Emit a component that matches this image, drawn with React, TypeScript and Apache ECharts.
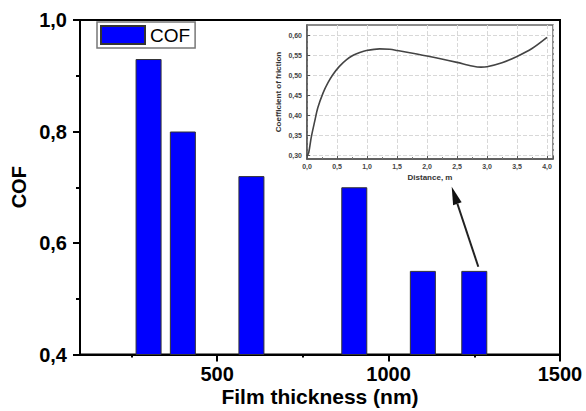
import React, { useEffect, useRef } from "react";
import * as echarts from "echarts";

const thickness = [300, 400, 600, 900, 1100, 1250];
const cofValues = [0.93, 0.8, 0.72, 0.7, 0.55, 0.55];
const xLabelValues = [500, 1000, 1500];
const xMinorTickValues = [250, 750, 1250];

const insetDistance = [0, 0.03, 0.07, 0.13, 0.18, 0.27, 0.35, 0.43, 0.54, 0.66, 0.77, 0.88, 0.99, 1.21, 1.38, 1.5, 2.0, 2.5, 2.75, 2.9, 3.0, 3.25, 3.5, 3.75, 4.0];
const insetFriction = [0.297, 0.307, 0.344, 0.386, 0.419, 0.457, 0.482, 0.502, 0.523, 0.54, 0.551, 0.558, 0.563, 0.567, 0.566, 0.563, 0.549, 0.533, 0.524, 0.521, 0.522, 0.532, 0.548, 0.568, 0.596];
const insetYTicks = [0.3, 0.35, 0.4, 0.45, 0.5, 0.55, 0.6];

export default function App() {
  const ref = useRef<HTMLDivElement>(null);
  useEffect(() => {
    document.body.style.margin = "0";
    if (!ref.current) return;
    const chart = echarts.init(ref.current, undefined, { renderer: "svg" });
    const font = "Liberation Sans, Arial, sans-serif";
    // arrow geometry (annotation)
    const tip = [451.7, 186.7];
    const tail = [478.3, 266.7];
    const dx = tip[0] - tail[0];
    const dy = tip[1] - tail[1];
    const len = Math.sqrt(dx * dx + dy * dy);
    const ux = dx / len, uy = dy / len;
    const px = -uy, py = ux;
    const hl = 18, hw = 4.5;
    const bx = tip[0] - hl * ux, by = tip[1] - hl * uy;

    chart.setOption({
      animation: false,
      backgroundColor: "#fff",
      textStyle: { fontFamily: font },
      legend: {
        show: true,
        left: 97,
        top: 22,
        padding: [3, 5, 3, 3],
        itemWidth: 44,
        itemHeight: 18,
        borderColor: "#777",
        borderWidth: 1.5,
        icon: "rect",
        textStyle: { fontSize: 19, color: "#000", fontFamily: font },
        data: ["COF"],
      },
      grid: [
        { left: 80, top: 20, width: 480, height: 334.5, show: true, borderColor: "#000", borderWidth: 2, outerBoundsMode: "none" },
        { left: 307, top: 25, width: 246, height: 134, show: true, borderColor: "#666", borderWidth: 1.5, backgroundColor: "#fff", outerBoundsMode: "none" },
      ],
      xAxis: [
        {
          type: "value",
          gridIndex: 0,
          min: 100,
          max: 1500,
          name: "Film thickness (nm)",
          nameLocation: "middle",
          nameGap: 31,
          nameMoveOverlap: false,
          nameTextStyle: { fontSize: 21, fontWeight: "bold", color: "#000", fontFamily: font, lineHeight: 21 },
          axisLine: { show: true, lineStyle: { color: "#000", width: 2 } },
          axisTick: { show: true, length: 7, lineStyle: { color: "#000", width: 2 }, customValues: xLabelValues },
          axisLabel: {
            fontSize: 20,
            fontWeight: "bold",
            color: "#000",
            margin: 9,
            lineHeight: 20,
            customValues: xLabelValues,
            fontFamily: font,
            formatter: (v: number) => String(v),
          },
          splitLine: { show: false },
        },
        {
          type: "value",
          gridIndex: 0,
          position: "bottom",
          min: 100,
          max: 1500,
          axisLine: { show: false },
          axisTick: { show: true, length: 3, lineStyle: { color: "#000", width: 2 }, customValues: xMinorTickValues },
          axisLabel: { show: false },
          splitLine: { show: false },
        },
        {
          type: "value",
          gridIndex: 1,
          min: 0,
          max: 4.1,
          interval: 0.5,
          name: "Distance, m",
          nameLocation: "middle",
          nameGap: 14,
          nameMoveOverlap: false,
          nameTextStyle: { fontSize: 8, fontWeight: "bold", color: "#333", fontFamily: font },
          axisLine: { show: true, lineStyle: { color: "#555", width: 1.5 } },
          axisTick: { show: true, inside: true, length: 3, lineStyle: { color: "#555" } },
          minorTick: { show: true, splitNumber: 2, length: 2, lineStyle: { color: "#777" } },
          axisLabel: {
            fontSize: 7,
            fontWeight: "bold",
            color: "#444",
            margin: 4,
            showMaxLabel: false,
            formatter: (v: number) => v.toFixed(1).replace(".", ","),
          },
          splitLine: { show: true, lineStyle: { color: "#d8d8d8", type: "dashed", width: 1 } },
        },
      ],
      yAxis: [
        {
          type: "value",
          gridIndex: 0,
          min: 0.4,
          max: 1.0,
          interval: 0.2,
          name: "COF",
          nameLocation: "middle",
          nameGap: 51,
          nameMoveOverlap: false,
          nameTextStyle: { fontSize: 20, fontWeight: "bold", color: "#000", fontFamily: font },
          axisLine: { show: true, lineStyle: { color: "#000", width: 2 } },
          axisTick: { show: true, length: 7, lineStyle: { color: "#000", width: 2 } },
          minorTick: { show: true, splitNumber: 2, length: 4, lineStyle: { color: "#000", width: 2 } },
          axisLabel: {
            fontSize: 20,
            fontWeight: "bold",
            color: "#000",
            margin: 13,
            fontFamily: font,
            formatter: (v: number) => v.toFixed(1).replace(".", ","),
          },
          splitLine: { show: false },
        },
        {
          type: "value",
          gridIndex: 1,
          min: 0.29,
          max: 0.627,
          name: "Coefficient of friction",
          nameLocation: "middle",
          nameGap: 25,
          nameMoveOverlap: false,
          nameTextStyle: { fontSize: 8, fontWeight: "bold", color: "#333", fontFamily: font },
          axisLine: { show: true, lineStyle: { color: "#555", width: 1.5 } },
          axisTick: { show: true, inside: true, length: 3, lineStyle: { color: "#555" }, customValues: insetYTicks },
          axisLabel: {
            fontSize: 7,
            fontWeight: "bold",
            color: "#444",
            margin: 5,
            customValues: insetYTicks,
            formatter: (v: number) => v.toFixed(2).replace(".", ","),
          },
          splitLine: { show: true, lineStyle: { color: "#d8d8d8", type: "dashed", width: 1 } },
        },
      ],
      series: [
        {
          name: "COF",
          type: "bar",
          xAxisIndex: 0,
          yAxisIndex: 0,
          barWidth: 26,
          itemStyle: { color: "#0000ff", borderColor: "#333", borderWidth: 1 },
          data: thickness.map((t, i) => [t, cofValues[i]]),
        },
        {
          name: "friction",
          type: "line",
          xAxisIndex: 2,
          yAxisIndex: 1,
          smooth: 0.3,
          showSymbol: false,
          symbol: "none",
          lineStyle: { color: "#444", width: 1.6 },
          data: insetDistance.map((d, i) => [d, insetFriction[i]]),
        },
      ],
      graphic: [
        {
          type: "line",
          shape: { x1: tail[0], y1: tail[1], x2: bx, y2: by },
          style: { stroke: "#222", lineWidth: 2 },
        },
        {
          type: "polygon",
          shape: {
            points: [
              [tip[0], tip[1]],
              [bx + hw * px, by + hw * py],
              [bx - hw * px, by - hw * py],
            ],
          },
          style: { fill: "#111" },
        },
      ],
    });
    return () => chart.dispose();
  }, []);
  return <div ref={ref} style={{ width: 586, height: 411 }} />;
}
